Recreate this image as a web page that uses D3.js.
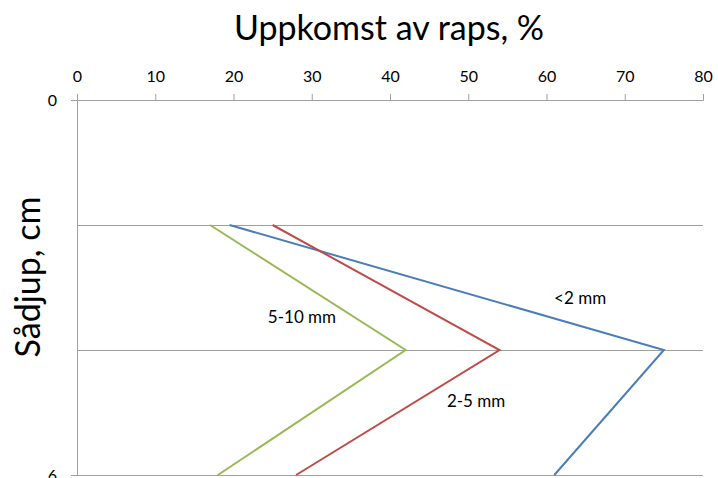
<!DOCTYPE html>
<html><head><meta charset="utf-8">
<script src="https://cdn.jsdelivr.net/npm/d3@7"></script>
<style>body{margin:0;background:#fff;} text{font-family:Lato,"Open Sans",sans-serif;}</style>
</head><body>
<svg id="c" width="718" height="478"></svg>
<script>
const depths = [2, 4, 6];
const seriesNames = ["<2 mm", "2-5 mm", "5-10 mm"];
const blueValues = [19.5, 75, 61];
const redValues = [25, 54, 28];
const greenValues = [17, 42, 18];
const xTicks = [0, 10, 20, 30, 40, 50, 60, 70, 80];
const yTickLabels = [0, 6];
const gridDepths = [2, 4, 6];
const colors = ["#4a7ebb", "#be4b48", "#98b954"];
const labelPos = [[64.3, 3.2], [51, 4.85], [28.75, 3.5]]; // [x value, depth] anchor for series labels

const svg = d3.select("#c");
const x = d3.scaleLinear().domain([0, 80]).range([77, 703]);
const y = d3.scaleLinear().domain([0, 6]).range([100, 475]);
const FF = "Lato,'Open Sans',sans-serif";

// gridlines
svg.selectAll(".grid").data(gridDepths).enter().append("line")
  .attr("x1", x(0)).attr("x2", x(80)).attr("y1", d => y(d)).attr("y2", d => y(d))
  .attr("stroke", "#a0a0a0").attr("stroke-width", 1).attr("shape-rendering", "crispEdges");

// top x axis
const xAxis = svg.append("g").attr("transform", `translate(0,${y(0)})`)
  .call(d3.axisTop(x).tickValues(xTicks).tickSize(6).tickPadding(12));
xAxis.select(".domain").attr("stroke", "#a0a0a0");
xAxis.selectAll(".tick line").attr("stroke", "#a0a0a0");
xAxis.selectAll("text").attr("font-size", 16).attr("fill", "#000").style("font-family", FF);

// left y axis
const yAxis = svg.append("g").attr("transform", `translate(${x(0)},0)`)
  .call(d3.axisLeft(y).tickValues(yTickLabels).tickSize(6).tickPadding(14).tickFormat(d3.format("d")));
yAxis.select(".domain").attr("stroke", "#a0a0a0");
yAxis.selectAll(".tick line").attr("stroke", "#a0a0a0");
yAxis.selectAll("text").attr("font-size", 16).attr("fill", "#000").style("font-family", FF);

// series
const allSeries = [blueValues, redValues, greenValues];
const line = d3.line().x(d => x(d[0])).y(d => y(d[1]));
allSeries.forEach((vals, i) => {
  svg.append("path").datum(vals.map((v, j) => [v, depths[j]]))
    .attr("d", line).attr("fill", "none").attr("stroke", colors[i]).attr("stroke-width", 2);
});

// series labels
seriesNames.forEach((n, i) => {
  svg.append("text").attr("x", x(labelPos[i][0])).attr("y", y(labelPos[i][1]))
    .attr("text-anchor", "middle").attr("dominant-baseline", "middle")
    .attr("font-size", 17).attr("fill", "#000").text(n);
});

// titles
svg.append("text").attr("x", 389).attr("y", 40).attr("text-anchor", "middle")
  .attr("font-size", 34).attr("fill", "#000").text("Uppkomst av raps, %");
svg.append("text").attr("transform", "translate(40,277) rotate(-90)").attr("text-anchor", "middle")
  .attr("font-size", 34).attr("fill", "#000").text("Sådjup, cm");
</script>
</body></html>
